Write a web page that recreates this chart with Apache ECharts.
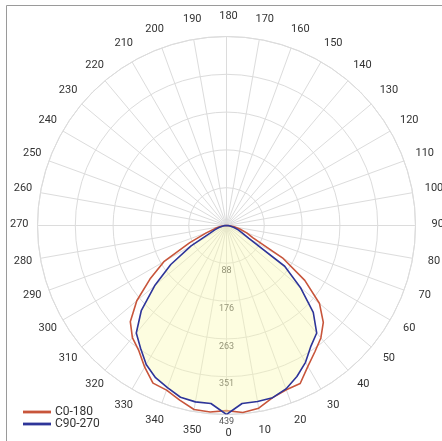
<!DOCTYPE html>
<html>
<head>
<meta charset="utf-8">
<script src="https://cdn.jsdelivr.net/npm/echarts@6/dist/echarts.min.js"></script>
<style>html,body{margin:0;padding:0;background:#fff;}#c{width:442px;height:441px;}</style>
</head>
<body>
<div id="c"></div>
<script>
// Angles (degrees, 0 = nadir at bottom) and intensities
const anglesC0 = [0,5,10,15,20,25,30,35,40,45,50,55,60,65,70,75,80,85,90,180,270,275,280,285,290,295,300,305,310,315,320,325,330,335,340,345,350,355,360];
const valuesC0 = [430,436,431,414,406,405,378,358,341,318,282,222,150,68,50,32,18,7,0,0,0,6,15,28,50,94,168,217,272,316,340,355,380,404,407,420,434,435,430];
const anglesC90 = [0,5,10,15,20,25,30,35,40,45,50,55,60,65,70,75,80,85,90,180,270,275,280,285,290,295,300,305,310,315,320,325,330,335,340,345,350,355,360];
const valuesC90 = [439,415,415,414,404,387,367,342,326,285,224,165,60,40,28,18,10,4,0,0,0,4,10,18,28,42,95,158,218,280,326,348,373,390,401,413,416,415,439];
const seriesNames = ['C0-180', 'C90-270'];
const radiusTickLabels = [88, 176, 263, 351, 439];
const angleTickStep = 10;
const radiusMax = 439;

const pairs = (a, v) => a.map((ang, i) => [v[i], ang]);

// layout constants
const CX = 226.5, CY = 225.5, R = 189, M = -6;
const TCX = 228.5, TCY = 224.5, D = 209, LH = 12, FS = 11;
const FONT = 'Roboto, sans-serif';

const ctx = document.createElement('canvas').getContext('2d');
ctx.font = FS + 'px Roboto';

const rich = {};
for (let a = 0; a < 360; a += angleTickStep) {
  const rad = a * Math.PI / 180, s = Math.sin(rad), c = Math.cos(rad);
  const px = CX + (R + M) * s, py = CY + (R + M) * c;
  const tx = TCX + D * s, ty = TCY + D * c;
  const w = ctx.measureText(String(a)).width;
  const ha = Math.abs(px - CX) / R < 0.3 ? 'center' : (px > CX ? 'left' : 'right');
  const va = Math.abs(py - CY) / R < 0.3 ? 'middle' : (py > CY ? 'top' : 'bottom');
  let t = 0, r = 0, b = 0, l = 0;
  if (ha === 'center') { const d = tx - px; if (d > 0) l = 2 * d; else r = -2 * d; }
  else if (ha === 'left') l = Math.max(0, tx - px - w / 2);
  else r = Math.max(0, px - tx - w / 2);
  if (va === 'middle') { const d = ty - py; if (d > 0) t = 2 * d; else b = -2 * d; }
  else if (va === 'top') t = Math.max(0, ty - py - LH / 2);
  else b = Math.max(0, py - ty - LH / 2);
  rich['a' + a] = {color: '#333', fontSize: FS, fontFamily: FONT,
                   padding: [Math.round(t), Math.round(r), Math.round(b), Math.round(l)]};
}

const chart = echarts.init(document.getElementById('c'), null, {renderer: 'canvas'});
chart.setOption({
  animation: false,
  backgroundColor: '#fff',
  textStyle: {fontFamily: FONT},
  graphic: [{
    type: 'rect', silent: true, z: -1,
    shape: {x: 6.5, y: 5.5, width: 440, height: 445},
    style: {fill: 'none', stroke: '#9a9a9a', lineWidth: 1}
  }],
  polar: {center: [CX, CY], radius: R},
  angleAxis: {
    type: 'value', min: 0, max: 360, interval: angleTickStep,
    startAngle: 270, clockwise: false,
    axisLine: {show: true, lineStyle: {color: '#dcdcdc', width: 1}},
    axisTick: {show: false},
    axisLabel: {
      margin: M,
      formatter: (v) => { const a = ((v % 360) + 360) % 360; return '{a' + a + '|' + a + '}'; },
      color: '#333', fontSize: FS, fontFamily: FONT,
      rich: rich
    },
    splitLine: {show: true, lineStyle: {color: '#dcdcdc', width: 1}}
  },
  radiusAxis: {
    type: 'value', min: 0, max: radiusMax, interval: radiusMax / 5,
    axisLine: {show: false},
    axisTick: {show: false},
    axisLabel: {
      show: true, showMinLabel: false, margin: 0,
      align: 'center', verticalAlign: 'top', padding: [3, 0, 0, 0],
      color: '#555', fontSize: 9, fontFamily: FONT,
      formatter: (v) => {
        const idx = Math.round(v / (radiusMax / 5)) - 1;
        return idx >= 0 ? String(radiusTickLabels[idx]) : '';
      }
    },
    splitLine: {show: true, lineStyle: {color: '#dcdcdc', width: 1}}
  },
  legend: {
    orient: 'vertical', left: 18, top: 401,
    itemWidth: 28, itemHeight: 10, itemGap: 0,
    textStyle: {color: '#333', fontSize: 12, fontFamily: FONT, padding: [0,0,0,-1]},
    data: seriesNames.map(n => ({name: n, icon: 'path://M0,0L10,0L10,1L0,1Z'}))
  },
  series: [
    {
      name: seriesNames[1], type: 'line', coordinateSystem: 'polar',
      data: pairs(anglesC90, valuesC90), symbol: 'none', smooth: false,
      lineStyle: {color: '#2e3599', width: 1.6}, itemStyle: {color: '#2e3599'},
      areaStyle: {color: 'rgba(250,250,175,0.55)'}, z: 3
    },
    {
      name: seriesNames[0], type: 'line', coordinateSystem: 'polar',
      data: pairs(anglesC0, valuesC0), symbol: 'none', smooth: false,
      lineStyle: {color: '#c8553b', width: 1.6}, itemStyle: {color: '#c8553b'}, z: 2
    }
  ]
});
</script>
</body>
</html>
